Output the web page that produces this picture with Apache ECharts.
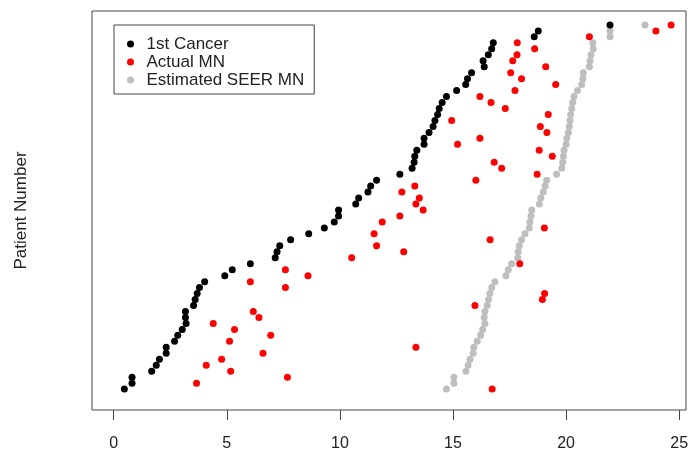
<!DOCTYPE html>
<html>
<head>
<meta charset="utf-8">
<script src="https://cdn.jsdelivr.net/npm/echarts@6/dist/echarts.min.js"></script>
<style>
  html, body { margin: 0; padding: 0; background: #fff; }
  #chart { width: 692px; height: 452px; }
</style>
</head>
<body>
<div id="chart"></div>
<script>
  // ==== data (years, one row per patient, bottom to top) ====
  const firstCancer = [0.47, 0.81, 0.81, 1.68, 1.88, 2.02, 2.32, 2.32, 2.69, 2.83, 3.03, 3.20, 3.17, 3.17, 3.53,
    3.60, 3.69, 3.79, 4.02, 4.91, 5.24, 6.04, 7.14, 7.22, 7.34, 7.82, 8.62, 9.31, 9.75, 9.94, 9.94, 10.70, 10.83,
    11.24, 11.36, 11.62, 12.65, 13.19, 13.28, 13.31, 13.40, 13.72, 13.72, 13.94, 14.12, 14.20, 14.32, 14.39, 14.52,
    14.71, 15.16, 15.56, 15.64, 15.82, 16.38, 16.33, 16.56, 16.71, 16.78, 18.59, 18.77, 21.94]

  const actualMN = [16.73, 3.66, 7.68, 5.17, 4.09, 4.77, 6.60, 13.36, 5.12, 6.94, 5.34, 4.40, 6.42, 6.17, 15.97,
    18.95, 19.05, 7.59, 6.04, 8.59, 7.59, 17.95, 10.52, 12.82, 11.62, 16.64, 11.51, 19.04, 11.87, 12.65, 13.68, 13.36,
    13.51, 12.74, 13.31, 16.01, 18.72, 17.15, 16.82, 19.39, 18.81, 15.20, 16.19, 19.15, 18.86, 14.94, 19.21, 17.31,
    16.68, 16.19, 17.74, 19.54, 18.03, 17.55, 19.10, 17.64, 17.83, 18.61, 17.84, 21.03, 23.97, 24.64]

  const seerMN = [14.71, 15.04, 15.04, 15.57, 15.67, 15.75, 15.89, 15.92, 16.07, 16.22, 16.31, 16.41, 16.38, 16.41,
    16.51, 16.57, 16.63, 16.71, 16.85, 17.34, 17.44, 17.59, 17.86, 17.88, 17.93, 18.03, 18.18, 18.37, 18.40, 18.45,
    18.48, 18.82, 18.88, 18.99, 19.07, 19.14, 19.58, 19.81, 19.85, 19.88, 19.91, 20.00, 20.03, 20.10, 20.14, 20.17,
    20.20, 20.25, 20.29, 20.35, 20.50, 20.69, 20.74, 20.76, 21.03, 21.06, 21.10, 21.20, 21.18, 21.94, 21.94, 23.49]

  const xTicks = [0, 5, 10, 15, 20, 25]
  const seriesNames = ['1st Cancer', 'Actual MN', 'Estimated SEER MN']

  const font = 'Liberation Sans, Arial, sans-serif'

  // patient number = row position
  const toPoints = (values) => values.map((v, i) => [v, i + 1])

  const dotSeries = (name, values, color, z) => ({
    name,
    type: 'scatter',
    data: toPoints(values),
    symbol: 'circle',
    symbolSize: 7,
    itemStyle: { color, opacity: 1 },
    z,
    silent: true
  })

  const chart = echarts.init(document.getElementById('chart'), null, { renderer: 'canvas' })

  chart.setOption({
    animation: false,
    backgroundColor: '#fff',
    textStyle: { fontFamily: font },
    grid: {
      left: 92,
      top: 11,
      right: 6,
      bottom: 40,
      show: true,
      borderColor: '#444',
      borderWidth: 1
    },
    legend: {
      data: seriesNames,
      orient: 'vertical',
      left: 114,
      top: 25,
      padding: [10, 10, 5, 13],
      itemGap: 0,
      itemWidth: 22,
      itemHeight: 7,
      icon: 'circle',
      borderColor: '#444',
      borderWidth: 1,
      borderRadius: 0,
      textStyle: { fontFamily: font, fontSize: 17, color: '#222', lineHeight: 18 }
    },
    xAxis: {
      type: 'value',
      min: -0.96,
      max: 25.3,
      axisLine: { show: false, onZero: false },
      splitLine: { show: false },
      axisTick: {
        show: true,
        inside: false,
        customValues: xTicks,
        length: 10,
        lineStyle: { color: '#444' }
      },
      axisLabel: {
        customValues: xTicks,
        margin: 26,
        fontSize: 16,
        color: '#222',
        fontFamily: font
      }
    },
    yAxis: {
      type: 'value',
      min: -2.5,
      max: 64.33,
      name: 'Patient Number',
      nameLocation: 'middle',
      nameGap: 62,
      nameTextStyle: { fontFamily: font, fontSize: 17, color: '#222' },
      axisLine: { show: false },
      axisTick: { show: false },
      axisLabel: { show: false },
      splitLine: { show: false }
    },
    series: [
      dotSeries(seriesNames[0], firstCancer, '#000000', 3),
      dotSeries(seriesNames[1], actualMN, '#ff0000', 2),
      dotSeries(seriesNames[2], seerMN, '#bebebe', 1)
    ]
  })
</script>
</body>
</html>
